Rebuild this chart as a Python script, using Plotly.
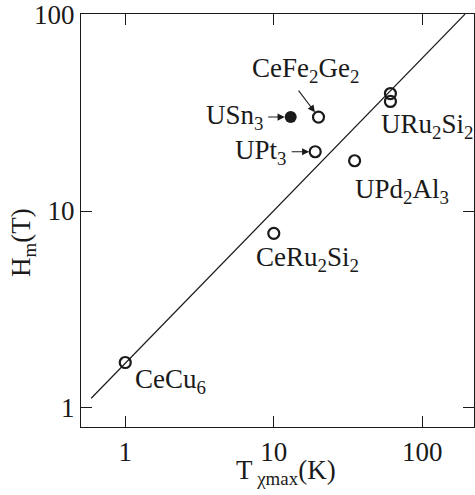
import plotly.graph_objects as go
import math

# data
open_names = ["CeCu6", "CeRu2Si2", "UPt3", "CeFe2Ge2", "URu2Si2", "URu2Si2", "UPd2Al3"]
open_T = [1.0, 10.0, 19.0, 20.0, 61.0, 61.0, 35.0]
open_H = [1.7, 7.7, 20.0, 30.0, 39.5, 36.0, 18.0]
filled_names = ["USn3"]
filled_T = [13.0]
filled_H = [30.0]
line_T = [0.59, 194.0]
line_H = [1.12, 100.0]
tick_vals = [1, 10, 100]
tick_text = ["1", "10", "100"]

FONT = "Liberation Serif, Times New Roman, serif"
INK = "#1a1a1a"
FS = 27

fig = go.Figure()
fig.add_trace(go.Scatter(x=line_T, y=line_H, mode="lines",
                         line=dict(color=INK, width=1.2), showlegend=False, hoverinfo="skip"))
fig.add_trace(go.Scatter(x=open_T, y=open_H, mode="markers",
                         marker=dict(symbol="circle-open", size=11, color=INK, line=dict(width=2.2)),
                         showlegend=False))
fig.add_trace(go.Scatter(x=filled_T, y=filled_H, mode="markers",
                         marker=dict(symbol="circle", size=12, color=INK),
                         showlegend=False))

def lab(text, x, y, xanchor, xshift, yshift):
    fig.add_annotation(x=x, y=y, xref="x", yref="y", text=text, showarrow=False,
                       xanchor=xanchor, yanchor="middle", xshift=xshift, yshift=yshift,
                       font=dict(family=FONT, size=FS, color=INK))

L = math.log10
lab("CeCu<sub>6</sub>", L(open_T[0]), L(open_H[0]), "left", 8, -18)
lab("CeRu<sub>2</sub>Si<sub>2</sub>", L(open_T[1]), L(open_H[1]), "left", -20, -26)
lab("UPt<sub>3</sub>", L(open_T[2]), L(open_H[2]), "right", -27, 0)
lab("CeFe<sub>2</sub>Ge<sub>2</sub>", L(open_T[3]), L(open_H[3]), "center", -13, 47)
lab("URu<sub>2</sub>Si<sub>2</sub>", L(open_T[5]), L(open_H[5]), "left", -11, -25)
lab("UPd<sub>2</sub>Al<sub>3</sub>", L(open_T[6]), L(open_H[6]), "left", -2, -30)
lab("USn<sub>3</sub>", L(filled_T[0]), L(filled_H[0]), "right", -26, 0)

def arrow(x, y, ax, ay):
    fig.add_annotation(x=x, y=y, xref="x", yref="y", text="", showarrow=True,
                       ax=ax, ay=ay, axref="pixel", ayref="pixel",
                       arrowhead=2, arrowsize=1.3, arrowwidth=1.1, arrowcolor=INK, standoff=6)

arrow(L(filled_T[0]), L(filled_H[0]), -24, 0)
arrow(L(open_T[2]), L(open_H[2]), -25, 0)
arrow(L(open_T[3]), L(open_H[3]), -21, -28)

# axis titles as paper annotations
fig.add_annotation(x=0.5216, y=-0.108, xref="paper", yref="paper", text="T<sub> χmax</sub>(K)",
                   showarrow=False, xanchor="center", yanchor="middle",
                   font=dict(family=FONT, size=FS, color=INK))
fig.add_annotation(x=-0.1476, y=0.448, xref="paper", yref="paper", text="H<sub>m</sub>(T)",
                   showarrow=False, xanchor="center", yanchor="middle", textangle=-90,
                   font=dict(family=FONT, size=FS, color=INK))

axis_common = dict(type="log", showline=True, linecolor=INK, linewidth=1.3, mirror="allticks",
                   ticks="inside", ticklen=11, tickwidth=1.1, tickcolor=INK, showgrid=False,
                   zeroline=False, automargin=False, ticklabeloverflow="allow",
                   tickfont=dict(family=FONT, size=FS, color=INK),
                   tickvals=tick_vals, ticktext=tick_text)

fig.update_xaxes(**axis_common, range=[-0.298, 2.348])
fig.update_yaxes(**axis_common, range=[-0.097, 2.0005])

fig.update_layout(width=475, height=495, margin=dict(l=81, r=1, t=14, b=68, autoexpand=False),
                  plot_bgcolor="white", paper_bgcolor="white", showlegend=False)

fig.write_html("out.html", config={"displayModeBar": False},
               post_script="document.body.style.margin='0';")
